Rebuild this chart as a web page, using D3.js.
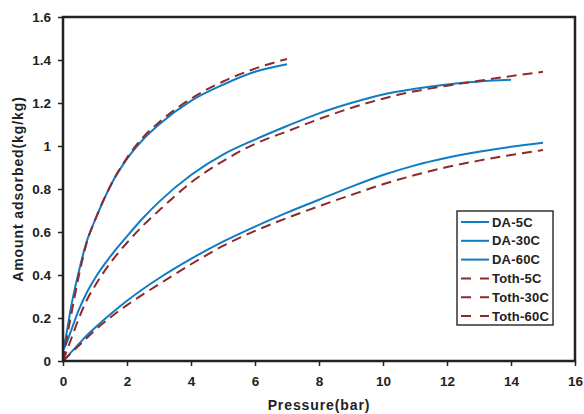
<!DOCTYPE html>
<html lang="en">
<head>
    <meta charset="UTF-8">
    <title>Adsorption isotherms</title>
    <script src="https://d3js.org/d3.v7.min.js"></script>
    <style>
        body { margin: 0; background: #fff; }
        svg { display: block; font-family: "Liberation Sans", Arial, sans-serif; }
        .tick text { font-size: 13.5px; font-weight: bold; fill: #222; }
    </style>
</head>
<body>
<div id="chart"></div>
<script>
    // pressure grid (bar)
    const pressure = [0, 0.1, 0.25, 0.5, 0.75, 1, 1.5, 2, 2.5, 3, 4, 5, 6, 7, 8, 9, 10, 11, 12, 13, 14, 15];

    // amount adsorbed (kg/kg)
    const da5 = [0.05, 0.12, 0.25, 0.42, 0.56, 0.655, 0.82, 0.94, 1.03, 1.10, 1.21, 1.285, 1.345, 1.38];
    const da30 = [0.05, 0.08, 0.14, 0.24, 0.32, 0.385, 0.49, 0.58, 0.665, 0.74, 0.865, 0.96, 1.03, 1.093, 1.152, 1.2, 1.24, 1.266, 1.286, 1.30, 1.308];
    const da60 = [0, 0.016, 0.04, 0.08, 0.12, 0.155, 0.22, 0.28, 0.335, 0.385, 0.475, 0.555, 0.625, 0.69, 0.75, 0.81, 0.865, 0.91, 0.945, 0.973, 0.996, 1.015];
    const toth5 = [0, 0.09, 0.21, 0.40, 0.555, 0.655, 0.82, 0.945, 1.04, 1.11, 1.22, 1.30, 1.36, 1.405];
    const toth30 = [0, 0.04, 0.10, 0.20, 0.285, 0.35, 0.46, 0.55, 0.63, 0.70, 0.83, 0.93, 1.01, 1.068, 1.125, 1.177, 1.22, 1.255, 1.28, 1.303, 1.325, 1.345];
    const toth60 = [0, 0.014, 0.036, 0.072, 0.108, 0.143, 0.205, 0.26, 0.31, 0.357, 0.45, 0.535, 0.605, 0.665, 0.72, 0.772, 0.822, 0.865, 0.902, 0.932, 0.958, 0.981];

    const xTicks = [0, 2, 4, 6, 8, 10, 12, 14, 16];
    const yTicks = [0, 0.2, 0.4, 0.6, 0.8, 1, 1.2, 1.4, 1.6];

    const series = [
        { name: "DA-5C", values: da5, type: "da" },
        { name: "DA-30C", values: da30, type: "da" },
        { name: "DA-60C", values: da60, type: "da" },
        { name: "Toth-5C", values: toth5, type: "toth" },
        { name: "Toth-30C", values: toth30, type: "toth" },
        { name: "Toth-60C", values: toth60, type: "toth" }
    ];

    const width = 584, height = 414;
    const margin = { top: 17, right: 9, bottom: 53, left: 63 };
    const blue = "#0f7cc6", red = "#8c2a2c";

    const svg = d3.select("#chart").append("svg")
        .attr("width", width)
        .attr("height", height);

    const x = d3.scaleLinear().domain([0, 16]).range([margin.left, width - margin.right]);
    const y = d3.scaleLinear().domain([0, 1.6]).range([height - margin.bottom, margin.top]);

    // axes
    svg.append("g")
        .attr("transform", `translate(0,${height - margin.bottom})`)
        .call(d3.axisBottom(x).tickValues(xTicks).tickSize(5).tickPadding(10).tickFormat(d3.format("d")))
        .call(g => g.select(".domain").remove())
        .call(g => g.selectAll(".tick line").attr("stroke", "#222").attr("stroke-width", 1.5));

    svg.append("g")
        .attr("transform", `translate(${margin.left},0)`)
        .call(d3.axisLeft(y).tickValues(yTicks).tickSize(5).tickPadding(7).tickFormat(d => d === 0 || d === 1 ? d3.format("d")(d) : d3.format(".1f")(d)))
        .call(g => g.select(".domain").remove())
        .call(g => g.selectAll(".tick line").attr("stroke", "#222").attr("stroke-width", 1.5));

    // curves
    const line = d3.line()
        .x((d, i) => x(pressure[i]))
        .y(d => y(d))
        .curve(d3.curveMonotoneX);

    svg.append("g")
        .selectAll("path")
        .data(series)
        .join("path")
        .attr("d", d => line(d.values))
        .attr("fill", "none")
        .attr("stroke", d => d.type === "da" ? blue : red)
        .attr("stroke-width", 2)
        .attr("stroke-dasharray", d => d.type === "da" ? null : "10,6");

    // plot frame
    svg.append("rect")
        .attr("x", margin.left)
        .attr("y", margin.top)
        .attr("width", width - margin.left - margin.right)
        .attr("height", height - margin.top - margin.bottom)
        .attr("fill", "none")
        .attr("stroke", "#222")
        .attr("stroke-width", 2.5);

    // legend
    const legend = svg.append("g").attr("transform", "translate(457,211)");
    legend.append("rect")
        .attr("width", 96)
        .attr("height", 114)
        .attr("fill", "#fff")
        .attr("stroke", "#333")
        .attr("stroke-width", 1.5);

    const item = legend.selectAll(".item")
        .data(series)
        .join("g")
        .attr("class", "item")
        .attr("transform", (d, i) => `translate(0,${11 + i * 18.8})`);

    item.append("line")
        .attr("x1", 4).attr("x2", 32)
        .attr("stroke", d => d.type === "da" ? blue : red)
        .attr("stroke-width", 2)
        .attr("stroke-dasharray", d => d.type === "da" ? null : "10,9");

    item.append("text")
        .attr("x", 35)
        .attr("dy", "0.36em")
        .attr("font-size", 13)
        .attr("font-weight", "bold")
        .attr("letter-spacing", 0.2)
        .attr("fill", "#222")
        .text(d => d.name);

    // axis titles
    svg.append("text")
        .attr("x", x(8))
        .attr("y", 410)
        .attr("text-anchor", "middle")
        .attr("font-size", 14)
        .attr("font-weight", "bold")
        .attr("letter-spacing", 0.9)
        .attr("fill", "#222")
        .text("Pressure(bar)");

    svg.append("text")
        .attr("transform", `translate(23,${y(0.8)}) rotate(-90)`)
        .attr("text-anchor", "middle")
        .attr("font-size", 14)
        .attr("font-weight", "bold")
        .attr("letter-spacing", 0.9)
        .attr("fill", "#222")
        .text("Amount adsorbed(kg/kg)");
</script>
</body>
</html>
